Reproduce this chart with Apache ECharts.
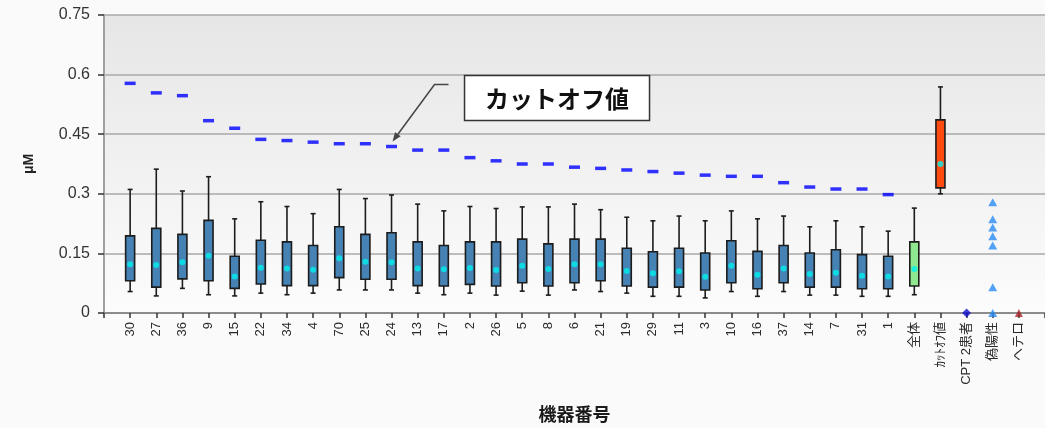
<!DOCTYPE html>
<html>
<head>
<meta charset="utf-8">
<script src="https://cdn.jsdelivr.net/npm/echarts@6/dist/echarts.min.js"></script>
<style>
  html, body { margin: 0; padding: 0; background: #fafafa; }
  #chart { width: 1045px; height: 428px; }
</style>
</head>
<body>
<div id="chart"></div>
<script>
// Device numbers followed by the summary groups
const categories = ['30','27','36','9','15','22','34','4','70','25','24','13','17','2','26','5','8','6','21','19','29','11','3','10','16','37','14','7','31','1','全体','ｶｯﾄｵﾌ値','CPT 2患者','偽陽性','ヘテロ'];

// Box statistics per device, then 全体 and the cut-off group (μM)
const whiskerLow  = [0.054,0.043,0.062,0.046,0.043,0.050,0.046,0.050,0.058,0.058,0.058,0.050,0.046,0.050,0.045,0.055,0.045,0.058,0.054,0.050,0.042,0.042,0.038,0.054,0.042,0.054,0.045,0.045,0.042,0.042,0.046,0.300];
const quartile1   = [0.081,0.065,0.086,0.081,0.062,0.073,0.069,0.069,0.089,0.085,0.085,0.069,0.068,0.072,0.068,0.076,0.068,0.076,0.081,0.068,0.065,0.065,0.058,0.076,0.061,0.076,0.065,0.065,0.061,0.061,0.068,0.315];
const quartile3   = [0.194,0.213,0.198,0.233,0.143,0.183,0.179,0.170,0.217,0.198,0.202,0.179,0.170,0.179,0.179,0.186,0.174,0.186,0.186,0.163,0.154,0.163,0.151,0.182,0.155,0.170,0.151,0.159,0.147,0.143,0.179,0.486];
const whiskerHigh = [0.311,0.362,0.307,0.343,0.237,0.280,0.268,0.250,0.311,0.288,0.297,0.274,0.257,0.268,0.263,0.267,0.267,0.274,0.260,0.241,0.232,0.244,0.232,0.257,0.237,0.244,0.217,0.232,0.217,0.206,0.264,0.569];
const meanValues  = [0.123,0.121,0.128,0.144,0.092,0.114,0.112,0.109,0.138,0.129,0.128,0.112,0.110,0.113,0.108,0.119,0.111,0.123,0.123,0.106,0.100,0.105,0.091,0.119,0.096,0.112,0.098,0.101,0.094,0.092,0.111,0.375];

// Cut-off value for each device
const cutoffValues = [0.578,0.554,0.547,0.484,0.465,0.437,0.434,0.430,0.426,0.426,0.419,0.410,0.410,0.391,0.383,0.375,0.375,0.367,0.364,0.360,0.356,0.352,0.347,0.344,0.344,0.328,0.317,0.312,0.312,0.298];

// Individual samples
const cptValues = [0];
const falsePositiveValues = [0.279,0.236,0.215,0.193,0.170,0.065,0];
const heteroValues = [0];

const yTicks = { min: 0, max: 0.75, interval: 0.15 };

const FONT = '"Liberation Sans", Arial, "Noto Sans CJK JP", sans-serif';
const JP_FONT = '"Noto Sans CJK JP", "Liberation Sans", sans-serif';

// empty slots at both ends leave a one-band margin around the categories
const axisData = [''].concat(categories, ['']);
const pos = name => categories.indexOf(name) + 1;

const boxFill = categories.slice(0, whiskerLow.length).map(c =>
  c === '全体' ? '#8fe88f' : (c === 'ｶｯﾄｵﾌ値' ? '#ff4a12' : '#4682b4'));

const boxData = whiskerLow.map((lo, i) => [i + 1, lo, quartile1[i], quartile3[i], whiskerHigh[i]]);
const meanData = meanValues.map((v, i) => [i + 1, v]);
const cutoffData = cutoffValues.map((v, i) => [i + 1, v]);

const chart = echarts.init(document.getElementById('chart'), null, { renderer: 'canvas' });

function renderBox(params, api) {
  const x = api.value(0);
  const lo = api.coord([x, api.value(1)]);
  const q1 = api.coord([x, api.value(2)]);
  const q3 = api.coord([x, api.value(3)]);
  const hi = api.coord([x, api.value(4)]);
  const hw = 4.5, cw = 2.5;
  const ink = { stroke: '#1c1c1c', lineWidth: 1.6 };
  return {
    type: 'group',
    children: [
      { type: 'line', shape: { x1: hi[0], y1: hi[1], x2: q3[0], y2: q3[1] }, style: ink },
      { type: 'line', shape: { x1: q1[0], y1: q1[1], x2: lo[0], y2: lo[1] }, style: ink },
      { type: 'line', shape: { x1: hi[0] - cw, y1: hi[1], x2: hi[0] + cw, y2: hi[1] }, style: ink },
      { type: 'line', shape: { x1: lo[0] - cw, y1: lo[1], x2: lo[0] + cw, y2: lo[1] }, style: ink },
      { type: 'rect', shape: { x: q3[0] - hw, y: q3[1], width: hw * 2, height: q1[1] - q3[1] },
        style: { fill: boxFill[params.dataIndex], stroke: '#1c1c1c', lineWidth: 1.6 } }
    ]
  };
}

chart.setOption({
  backgroundColor: '#fafafa',
  animation: false,
  grid: {
    left: 104, top: 15, width: 943, height: 298,
    show: true, borderWidth: 0,
    backgroundColor: new echarts.graphic.LinearGradient(0, 0, 0, 1, [
      { offset: 0, color: '#e6e6e6' },
      { offset: 1, color: '#fcfcfc' }
    ])
  },
  xAxis: {
    type: 'category',
    data: axisData,
    boundaryGap: false,
    name: '機器番号',
    nameLocation: 'middle',
    nameGap: 92,
    nameTextStyle: { fontFamily: JP_FONT, fontSize: 18, fontWeight: 'bold', color: '#1a1a1a' },
    axisLine: { lineStyle: { color: '#8c8c8c', width: 2 } },
    axisTick: { show: true, inside: false, length: 5, interval: 0, lineStyle: { color: '#333', width: 1.5 } },
    axisLabel: { interval: 0, rotate: 90, margin: 9, fontFamily: FONT, fontSize: 13, color: '#2a2a2a' },
    splitLine: { show: false }
  },
  yAxis: {
    type: 'value',
    min: yTicks.min, max: yTicks.max, interval: yTicks.interval,
    name: 'μM',
    nameLocation: 'middle',
    nameGap: 68,
    nameTextStyle: { fontFamily: FONT, fontSize: 14, fontWeight: 'bold', color: '#222' },
    axisLine: { show: true, lineStyle: { color: '#a0a0a0', width: 2 } },
    axisTick: { show: true, length: 6, lineStyle: { color: '#333', width: 1.5 } },
    axisLabel: { margin: 14, fontFamily: FONT, fontSize: 16, color: '#333' },
    splitLine: { show: true, lineStyle: { color: '#a9a9a9', width: 1.5 } }
  },
  series: [
    {
      name: 'box', type: 'custom', renderItem: renderBox,
      data: boxData, encode: { x: 0, y: [1, 2, 3, 4] }, z: 2
    },
    {
      name: 'mean', type: 'scatter', data: meanData,
      symbol: 'circle', symbolSize: 6,
      itemStyle: { color: '#00f0f0' }, z: 3
    },
    {
      name: 'cutoff', type: 'scatter', data: cutoffData,
      symbol: 'rect', symbolSize: [11, 3.5],
      itemStyle: { color: '#0000ff' }, z: 3
    },
    {
      name: 'CPT 2患者', type: 'scatter',
      data: cptValues.map(v => [pos('CPT 2患者'), v]),
      symbol: 'diamond', symbolSize: [9, 9],
      itemStyle: { color: '#1010d0' }, z: 4
    },
    {
      name: '偽陽性', type: 'scatter',
      data: falsePositiveValues.map(v => [pos('偽陽性'), v]),
      symbol: 'triangle', symbolSize: [9, 8],
      itemStyle: { color: '#2a8cf5' }, z: 4
    },
    {
      name: 'ヘテロ', type: 'scatter',
      data: heteroValues.map(v => [pos('ヘテロ'), v]),
      symbol: 'triangle', symbolSize: [8, 8],
      itemStyle: { color: '#a8262a' }, z: 4
    }
  ]
});

// Callout pointing at the cut-off dash of device 24
const tipRef = chart.convertToPixel({ xAxisIndex: 0, yAxisIndex: 0 }, [pos('24'), cutoffValues[categories.indexOf('24')]]);
const tip = [tipRef[0] + 1, tipRef[1] - 5];
const elbow = [tip[0] + 42, tip[1] - 57];
const lineEnd = [tip[0] + 56, tip[1] - 57];
const dx = tip[0] - elbow[0], dy = tip[1] - elbow[1];
const len = Math.hypot(dx, dy);
const ux = dx / len, uy = dy / len;
const headLen = 9, headHalf = 3.5;
const base = [tip[0] - ux * headLen, tip[1] - uy * headLen];
const head = [
  tip,
  [base[0] - uy * headHalf, base[1] + ux * headHalf],
  [base[0] + uy * headHalf, base[1] - ux * headHalf]
];
const boxLeft = tip[0] + 72, boxTop = tip[1] - 66, boxW = 185, boxH = 45;

chart.setOption({
  graphic: [
    { type: 'polyline', shape: { points: [lineEnd, elbow, base] },
      style: { stroke: '#444', lineWidth: 1.5, fill: null }, z: 10 },
    { type: 'polygon', shape: { points: head }, style: { fill: '#444' }, z: 10 },
    { type: 'rect', shape: { x: boxLeft, y: boxTop, width: boxW, height: boxH },
      style: { fill: '#ffffff', stroke: '#333', lineWidth: 1.5 }, z: 10 },
    { type: 'text', x: boxLeft + boxW / 2, y: boxTop + boxH / 2 + 1,
      style: { text: 'カットオフ値', fontFamily: JP_FONT, fontSize: 24, fontWeight: 'bold',
               fill: '#111', align: 'center', verticalAlign: 'middle' }, z: 11 }
  ]
});
</script>
</body>
</html>
